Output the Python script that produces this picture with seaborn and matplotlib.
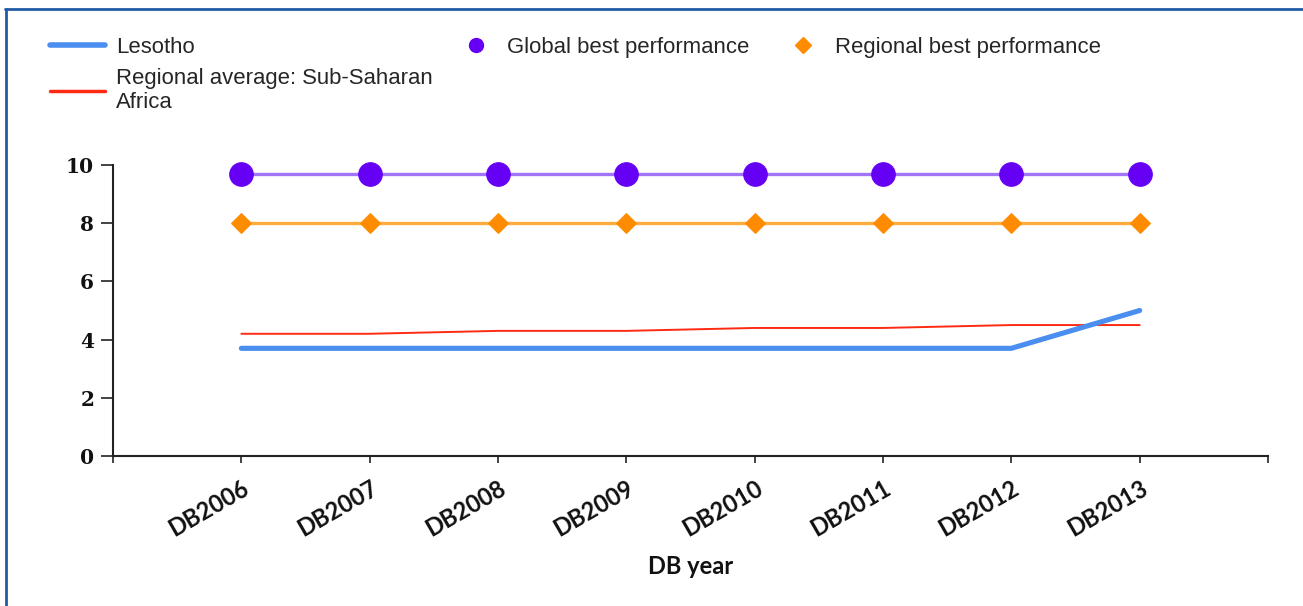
import numpy as np
import pandas as pd
import matplotlib
matplotlib.use("Agg")
import matplotlib.pyplot as plt
from matplotlib.lines import Line2D
import seaborn as sns

# Data
years = ["DB2006", "DB2007", "DB2008", "DB2009", "DB2010", "DB2011", "DB2012", "DB2013"]
lesotho = [3.7, 3.7, 3.7, 3.7, 3.7, 3.7, 3.7, 5.0]
regional_avg = [4.2, 4.2, 4.3, 4.3, 4.4, 4.4, 4.5, 4.5]
global_best = [9.7, 9.7, 9.7, 9.7, 9.7, 9.7, 9.7, 9.7]
regional_best = [8.0, 8.0, 8.0, 8.0, 8.0, 8.0, 8.0, 8.0]

pos = np.arange(1, len(years) + 1)
df = pd.DataFrame({
    "pos": pos,
    "year": years,
    "Lesotho": lesotho,
    "Regional average": regional_avg,
    "Global best": global_best,
    "Regional best": regional_best,
})

sns.set_style("white")
plt.rcParams["font.family"] = ["Liberation Sans", "DejaVu Sans"]

W, H = 1303, 606
fig = plt.figure(figsize=(W / 100, H / 100), dpi=100)
ax = fig.add_axes([113 / W, 1 - 456 / H, (1268 - 113) / W, (456 - 165) / H])

c_blue = "#4a8ef0"
c_red = "#ff2a12"
c_purple = "#6600f5"
c_purple_line = "#a274f8"
c_orange = "#ff8c00"
c_orange_line = "#ffac3c"

sns.lineplot(data=df, x="pos", y="Lesotho", ax=ax, color=c_blue, linewidth=3.7, zorder=3)
sns.lineplot(data=df, x="pos", y="Regional average", ax=ax, color=c_red, linewidth=1.4, zorder=2)
sns.lineplot(data=df, x="pos", y="Global best", ax=ax, color=c_purple_line, linewidth=2.4,
             marker="o", markersize=17, markerfacecolor=c_purple, markeredgecolor=c_purple,
             clip_on=False, zorder=4)
sns.lineplot(data=df, x="pos", y="Regional best", ax=ax, color=c_orange_line, linewidth=2.4,
             marker="D", markersize=10.5, markerfacecolor=c_orange, markeredgecolor=c_orange,
             zorder=4)

ax.set_xlim(0, len(years) + 1)
ax.set_ylim(0, 10)
ax.set_xticks(np.arange(0, len(years) + 2))
ax.set_xticklabels([""] + years + [""])
ax.set_yticks([0, 2, 4, 6, 8, 10])

for s in ["top", "right"]:
    ax.spines[s].set_visible(False)
for s in ["left", "bottom"]:
    ax.spines[s].set_linewidth(1.5)
    ax.spines[s].set_color("#222222")

ax.tick_params(axis="x", bottom=True, direction="out", length=5, width=1.2,
               color="#222222", pad=10)
ax.tick_params(axis="y", left=True, direction="out", length=8.6, width=1.2,
               color="#222222", pad=5)

for lab in ax.get_yticklabels():
    lab.set_fontfamily("DejaVu Serif")
    lab.set_fontweight("bold")
    lab.set_fontsize(14.5)
    lab.set_color("#111111")

for lab in ax.get_xticklabels():
    lab.set_fontfamily("Lato")
    lab.set_fontweight("bold")
    lab.set_fontsize(17)
    lab.set_color("#111111")
    lab.set_rotation(30)
    lab.set_ha("right")
    lab.set_va("top")
    lab.set_rotation_mode("anchor")

ax.set_xlabel("DB year", fontfamily="Lato", fontweight="bold", fontsize=17,
              labelpad=10, color="#111111")
ax.set_ylabel("")

# Legend: line entries in the first column, marker entries to the right
line_handles = [
    Line2D([], [], color=c_blue, linewidth=4),
    Line2D([], [], color=c_red, linewidth=2.5),
]
line_labels = ["Lesotho", "Regional average: Sub-Saharan\nAfrica"]
fig.legend(line_handles, line_labels, loc="upper left",
           bbox_to_anchor=(50 / W, 1 - 37 / H), frameon=False,
           fontsize=15.9, handlelength=2.5, handletextpad=0.5,
           borderpad=0, borderaxespad=0, labelspacing=0.45)

marker_handles = [
    Line2D([], [], color=c_purple, linestyle="none", marker="o", markersize=10),
    Line2D([], [], color=c_orange, linestyle="none", marker="D", markersize=8),
]
marker_labels = ["Global best performance", "Regional best performance"]
fig.legend(marker_handles, marker_labels, ncol=2, loc="upper left",
           bbox_to_anchor=(459 / W, 1 - 37 / H), frameon=False,
           fontsize=15.9, handlelength=1.5, handletextpad=0.67,
           columnspacing=1.7, borderpad=0, borderaxespad=0)

# Blue frame lines at top and left edges
fig.add_artist(Line2D([5 / W, 1], [1 - 9 / H, 1 - 9 / H], color="#1f5ba6",
                      linewidth=2, transform=fig.transFigure))
fig.add_artist(Line2D([6 / W, 6 / W], [0, 1 - 9 / H], color="#1f5ba6",
                      linewidth=2, transform=fig.transFigure))

fig.savefig("out.png", dpi=100)
